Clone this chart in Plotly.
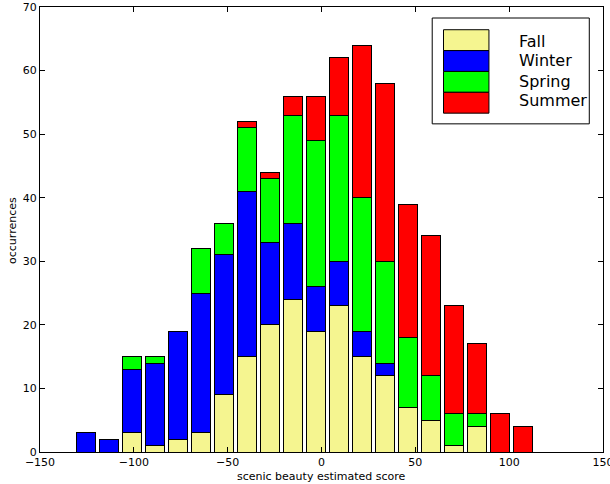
import plotly.graph_objects as go

# ---- data ----
bin_centers = [-125.6, -113.3, -101.1, -88.8, -76.5, -64.3, -52.0, -39.7, -27.5, -15.2,
               -2.9, 9.3, 21.6, 33.9, 46.1, 58.4, 70.7, 82.9, 95.2, 107.5]
fall   = [0, 0, 3, 1, 2, 3, 9, 15, 20, 24, 19, 23, 15, 12, 7, 5, 1, 4, 0, 0]
winter = [3, 2, 10, 13, 17, 22, 22, 26, 13, 12, 7, 7, 4, 2, 0, 0, 0, 0, 0, 0]
spring = [0, 0, 2, 1, 0, 7, 5, 10, 10, 17, 23, 23, 21, 16, 11, 7, 5, 2, 0, 0]
summer = [0, 0, 0, 0, 0, 0, 0, 1, 1, 3, 7, 9, 24, 28, 21, 22, 17, 11, 6, 4]
series_names = ["Fall", "Winter", "Spring", "Summer"]
x_ticks = [-150, -100, -50, 0, 50, 100, 150]
y_ticks = [0, 10, 20, 30, 40, 50, 60, 70]

colors = ["#f5f590", "#0000ff", "#00ff00", "#ff0000"]
series = [fall, winter, spring, summer]

W, H = 610, 484
ML, MR, MT, MB = 40, 7.3, 7.3, 32.3
PW, PH = W - ML - MR, H - MT - MB

def px_x(p):
    return (p - ML) / PW

def px_y(p):
    return (H - MB - p) / PH

FONT = "DejaVu Sans"

fig = go.Figure()
for name, vals, col in zip(series_names, series, colors):
    fig.add_trace(go.Bar(
        x=bin_centers, y=vals, name=name, width=10,
        marker=dict(color=col, line=dict(color="black", width=1)),
        showlegend=False,
    ))

shapes = []
annotations = []
# legend box
shapes.append(dict(type="rect", xref="paper", yref="paper",
                   x0=px_x(432), x1=px_x(589), y0=px_y(124), y1=px_y(18.3),
                   line=dict(color="black", width=1), fillcolor="white", layer="above"))
sw_top, sw_h = 30.0, 20.83
text_y = [41.7, 60.8, 81.7, 100.8]
for i, (name, col) in enumerate(zip(series_names, colors)):
    y0 = sw_top + i * sw_h
    shapes.append(dict(type="rect", xref="paper", yref="paper",
                       x0=px_x(443.3), x1=px_x(488.7), y0=px_y(y0 + sw_h), y1=px_y(y0),
                       line=dict(color="black", width=1), fillcolor=col, layer="above"))
    annotations.append(dict(text=name, xref="paper", yref="paper",
                            x=px_x(517), y=px_y(text_y[i]), xanchor="left", yanchor="middle",
                            showarrow=False, font=dict(family=FONT, size=16, color="black")))

annotations.append(dict(text="scenic beauty estimated score", xref="paper", yref="paper",
                        x=px_x(321.7), y=px_y(476), xanchor="center", yanchor="middle",
                        showarrow=False, font=dict(family=FONT, size=11, color="black")))
annotations.append(dict(text="occurrences", xref="paper", yref="paper",
                        x=px_x(12), y=px_y(230), xanchor="center", yanchor="middle",
                        textangle=-90, showarrow=False,
                        font=dict(family=FONT, size=11, color="black")))

fig.update_layout(
    width=W, height=H,
    margin=dict(l=ML, r=MR, t=MT, b=MB, pad=0),
    paper_bgcolor="white", plot_bgcolor="white",
    barmode="stack",
    font=dict(family=FONT, size=11, color="black"),
    shapes=shapes, annotations=annotations,
    showlegend=False,
)
fig.update_xaxes(range=[-150, 150], tickvals=x_ticks, ticks="inside", ticklen=5,
                 tickcolor="black", showline=True, linecolor="black", linewidth=1,
                 mirror="ticks", showgrid=False, zeroline=False, automargin=False,
                 ticklabeloverflow="allow",
                 tickfont=dict(family=FONT, size=11, color="black"))
fig.update_yaxes(range=[0, 70], tickvals=y_ticks, ticks="inside", ticklen=5,
                 tickcolor="black", showline=True, linecolor="black", linewidth=1,
                 mirror="ticks", showgrid=False, zeroline=False, automargin=False,
                 ticklabeloverflow="allow",
                 tickfont=dict(family=FONT, size=11, color="black"))

fig.write_html("out.html", config={"displayModeBar": False},
               post_script="document.body.style.margin='0px';document.body.style.overflow='hidden';")
